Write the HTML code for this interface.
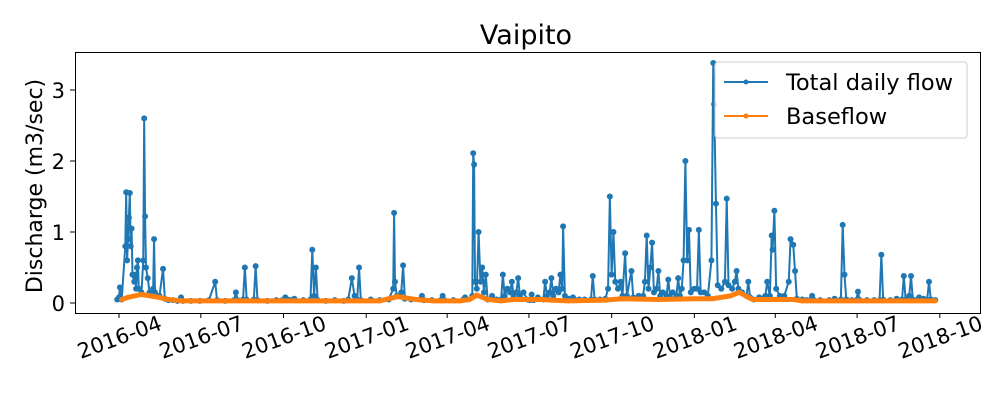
<!DOCTYPE html>
<html><head><meta charset="utf-8"><style>
body{margin:0;background:#fff;}
svg{display:block;font-family:"DejaVu Sans","Liberation Sans",sans-serif;}
</style></head><body>
<svg id="chart" width="1000" height="400" viewBox="0 0 1000 400" xmlns="http://www.w3.org/2000/svg">
<rect width="1000" height="400" fill="#fff"/>
<text x="526" y="44" font-size="27" text-anchor="middle">Vaipito</text>
<text transform="translate(42,186) rotate(-90)" font-size="22" text-anchor="middle">Discharge (m3/sec)</text>
<g id="yticks"></g><g id="xticks"></g>
<g id="plot"></g>
<rect x="75.5" y="52.5" width="905" height="261" fill="none" stroke="#000" stroke-width="1"/>
<g>
<rect x="715" y="62" width="252" height="76" rx="3" fill="#fff" fill-opacity="0.8" stroke="#ccc"/>
<line x1="724" y1="82" x2="768" y2="82" stroke="#1f77b4" stroke-width="2"/><circle cx="746" cy="82" r="2.5" fill="#1f77b4"/>
<text x="786" y="90" font-size="22.5">Total daily flow</text>
<line x1="724" y1="116" x2="768" y2="116" stroke="#ff7f0e" stroke-width="2"/><circle cx="746" cy="116" r="2.5" fill="#ff7f0e"/>
<text x="786" y="124" font-size="22.5">Baseflow</text>
</g>
</svg>
<script>
// day offsets from 2016-04-01, discharge m3/sec
const totalFlow=[[-2,0.05],[0,0.08],[1,0.22],[3,0.05],[7,0.8],[8,1.56],[9,0.6],[10,0.9],[11,1.2],[12,1.55],[13,0.8],[14,1.05],[15,0.4],[17,0.3],[18,0.4],[19,0.2],[20,0.5],[21,0.6],[22,0.2],[25,0.15],[27,0.6],[28,2.6],[29,1.22],[30,0.5],[32,0.35],[34,0.15],[38,0.2],[39,0.9],[40,0.15],[45,0.1],[49,0.48],[51,0.06],[55,0.04],[60,0.04],[65,0.03],[69,0.08],[71,0.03],[80,0.03],[90,0.03],[100,0.04],[107,0.3],[109,0.04],[118,0.03],[128,0.04],[130,0.15],[132,0.04],[138,0.05],[140,0.5],[142,0.05],[150,0.05],[152,0.52],[154,0.04],[165,0.03],[175,0.04],[185,0.08],[195,0.06],[205,0.04],[213,0.05],[215,0.75],[217,0.1],[219,0.5],[221,0.04],[230,0.03],[240,0.04],[250,0.03],[255,0.05],[259,0.35],[262,0.1],[265,0.05],[267,0.5],[269,0.04],[280,0.05],[290,0.04],[300,0.05],[305,0.2],[306,1.27],[307,0.3],[309,0.1],[314,0.15],[316,0.53],[318,0.06],[325,0.05],[335,0.05],[337,0.1],[339,0.04],[348,0.04],[358,0.04],[360,0.1],[362,0.04],[372,0.04],[383,0.05],[385,0.08],[387,0.05],[393,0.1],[394,2.11],[395,1.95],[396,0.3],[398,0.2],[400,1.0],[402,0.3],[404,0.5],[406,0.15],[408,0.4],[410,0.05],[415,0.1],[420,0.05],[425,0.05],[427,0.4],[429,0.1],[432,0.2],[435,0.15],[437,0.3],[439,0.1],[442,0.15],[444,0.35],[446,0.1],[450,0.15],[454,0.05],[457,0.04],[459,0.12],[461,0.04],[466,0.08],[472,0.05],[474,0.3],[476,0.1],[479,0.15],[481,0.35],[483,0.1],[486,0.2],[489,0.15],[491,0.4],[493,0.2],[494,1.08],[496,0.1],[500,0.06],[505,0.08],[512,0.05],[518,0.05],[525,0.05],[527,0.38],[529,0.05],[535,0.05],[541,0.06],[544,0.2],[546,1.5],[548,0.4],[550,1.0],[552,0.3],[555,0.2],[558,0.3],[560,0.1],[563,0.7],[565,0.1],[570,0.45],[572,0.08],[578,0.1],[583,0.1],[585,0.3],[587,0.95],[589,0.2],[591,0.5],[593,0.85],[595,0.15],[598,0.2],[600,0.45],[602,0.1],[605,0.15],[609,0.1],[611,0.33],[613,0.08],[616,0.15],[620,0.1],[622,0.35],[624,0.1],[626,0.2],[628,0.6],[630,2.0],[632,0.6],[634,1.03],[636,0.15],[640,0.2],[643,0.2],[645,1.03],[647,0.15],[651,0.15],[655,0.1],[659,0.6],[661,3.38],[662,2.8],[664,1.4],[666,0.25],[670,0.2],[674,0.3],[676,1.47],[678,0.25],[682,0.2],[685,0.3],[687,0.45],[689,0.2],[693,0.15],[698,0.1],[700,0.3],[702,0.08],[706,0.05],[712,0.08],[719,0.1],[721,0.3],[724,0.1],[726,0.95],[727,0.75],[729,1.3],[731,0.2],[735,0.1],[740,0.1],[745,0.3],[747,0.9],[750,0.82],[752,0.45],[754,0.06],[760,0.05],[765,0.04],[769,0.04],[771,0.1],[773,0.04],[780,0.04],[790,0.04],[796,0.06],[803,0.05],[805,1.1],[807,0.4],[809,0.05],[815,0.04],[820,0.04],[822,0.16],[824,0.04],[832,0.04],[840,0.04],[846,0.04],[848,0.68],[850,0.05],[858,0.04],[865,0.06],[871,0.05],[873,0.38],[875,0.05],[879,0.1],[881,0.38],[883,0.05],[890,0.08],[895,0.06],[899,0.05],[901,0.3],[903,0.05],[908,0.04]];
const baseFlow=[[3,0.05],[10,0.08],[25,0.12],[40,0.09],[55,0.05],[70,0.03],[200,0.03],[290,0.03],[300,0.06],[310,0.09],[330,0.05],[350,0.03],[380,0.03],[390,0.05],[398,0.11],[410,0.05],[425,0.03],[440,0.05],[470,0.05],[480,0.04],[500,0.03],[540,0.04],[560,0.06],[600,0.05],[640,0.06],[660,0.06],[670,0.08],[680,0.1],[690,0.15],[700,0.08],[705,0.05],[750,0.05],[760,0.03],[908,0.03]];
const yTicks=[0,1,2,3];
const xTickDays=[0,91,183,275,365,456,548,640,730,821,913];
const xTickLabels=["2016-04","2016-07","2016-10","2017-01","2017-04","2017-07","2017-10","2018-01","2018-04","2018-07","2018-10"];

const NS="http://www.w3.org/2000/svg";
const xs=d=>119+d*0.899;
const ys=v=>303-v*71;
function mk(tag,attrs,parent){const e=document.createElementNS(NS,tag);for(const k in attrs)e.setAttribute(k,attrs[k]);parent.appendChild(e);return e;}
const yt=document.getElementById('yticks'),xt=document.getElementById('xticks'),plot=document.getElementById('plot');
yTicks.forEach(v=>{
  const l=mk('line',{x1:70,x2:75,y1:ys(v),y2:ys(v),stroke:'#000'},yt);
  
  
  const t=mk('text',{x:65,y:ys(v)+8,'font-size':21,'text-anchor':'end'},yt);
  t.textContent=v;
  
  
});
xTickDays.forEach((d,i)=>{
  const x=xs(d);
  const l=mk('line',{x1:x,x2:x,y1:313,y2:318,stroke:'#000'},xt);
  
  
  const t=mk('text',{x:0,y:0,'font-size':21,'text-anchor':'middle',transform:`translate(${x+3},${344}) rotate(-20)`},xt);
  t.textContent=xTickLabels[i];
  
  
});
function series(data,color,w,r,name){
  const p=mk('polyline',{points:data.map(a=>xs(a[0])+','+ys(a[1])).join(' '),fill:'none',stroke:color,'stroke-width':w,'stroke-linejoin':'round'},plot);
  
  
  data.forEach(a=>{
    const c=mk('circle',{cx:xs(a[0]),cy:ys(a[1]),r:r,fill:color},plot);
    
    
  });
}
series(totalFlow,'#1f77b4',2,3,'total-flow');
series(baseFlow,'#ff7f0e',5,2.5,'baseflow');
</script>
</body></html>
